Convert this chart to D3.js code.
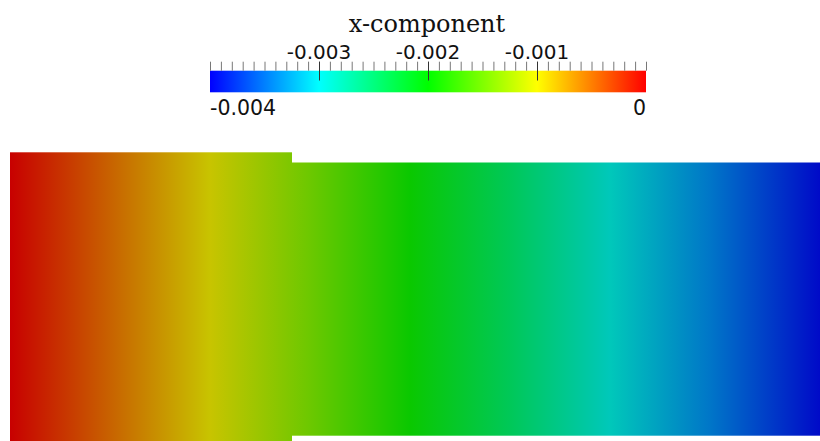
<!DOCTYPE html>
<html>
<head>
<meta charset="utf-8">
<script src="https://cdn.jsdelivr.net/npm/d3@7"></script>
<style>
  html, body { margin: 0; padding: 0; background: #fff; }
  svg { display: block; }
</style>
</head>
<body>
<svg id="chart" width="820" height="441"></svg>
<script>
  // ---- data (model units) ----
  const partStart = [0, 28.15];
  const partEnd = [28.15, 81];
  const partHalfHeight = [14.68, 13.66];

  // x-component
  const stationX = [0, 10, 20, 30, 40, 50, 60, 70, 81];
  const stationValue = [0, -0.00049, -0.00098, -0.00146, -0.00195, -0.00244, -0.00293, -0.00341, -0.00395];

  // colour map
  const mapValues = [-0.004, -0.003, -0.002, -0.001, 0];
  const mapColors = ["#0000ff", "#00ffff", "#00ff00", "#ffff00", "#ff0000"];
  const majorTicks = [-0.003, -0.002, -0.001];
  const endLabels = [-0.004, 0];
  const title = "x-component";

  const svg = d3.select("#chart");
  const defs = svg.append("defs");

  const color = d3.scaleLinear().domain(mapValues).range(mapColors).interpolate(d3.interpolateRgb);
  const shade = 0.784;
  const shaded = v => {
    const c = d3.rgb(color(v));
    return d3.rgb(c.r * shade, c.g * shade, c.b * shade).formatHex();
  };

  // ---- field ----
  const x = d3.scaleLinear().domain([0, 81]).range([10, 820]);
  const y = d3.scaleLinear().domain([-1, 1]).range([309.1, 289.1]); // 10 px per unit, centre 299.1

  const fieldGrad = defs.append("linearGradient")
    .attr("id", "fieldGrad")
    .attr("gradientUnits", "userSpaceOnUse")
    .attr("x1", x(0)).attr("x2", x(81)).attr("y1", 0).attr("y2", 0);
  stationX.forEach((sx, i) => {
    fieldGrad.append("stop")
      .attr("offset", (sx / 81))
      .attr("stop-color", shaded(stationValue[i]));
  });

  const parts = partStart.map((s, i) => ({ s, e: partEnd[i], h: partHalfHeight[i] }));
  svg.append("g").selectAll("rect")
    .data(parts)
    .join("rect")
    .attr("x", d => x(d.s))
    .attr("width", d => x(d.e) - x(d.s) + (d.s === 0 ? 0.5 : 0))
    .attr("y", d => y(d.h))
    .attr("height", d => y(-d.h) - y(d.h))
    .attr("fill", "url(#fieldGrad)");

  // ---- colour legend ----
  const lx = d3.scaleLinear().domain([-0.004, 0]).range([210, 646]);
  const barTop = 70.7, barH = 21.6;

  const barGrad = defs.append("linearGradient")
    .attr("id", "barGrad")
    .attr("gradientUnits", "userSpaceOnUse")
    .attr("x1", lx(-0.004)).attr("x2", lx(0)).attr("y1", 0).attr("y2", 0);
  mapValues.forEach((v, i) => {
    barGrad.append("stop")
      .attr("offset", (lx(v) - lx(-0.004)) / (lx(0) - lx(-0.004)))
      .attr("stop-color", mapColors[i]);
  });

  const legend = svg.append("g");
  legend.append("rect")
    .attr("x", lx(-0.004)).attr("y", barTop)
    .attr("width", lx(0) - lx(-0.004)).attr("height", barH)
    .attr("fill", "url(#barGrad)");

  // minor ticks
  const minorVals = d3.range(0, 41).map(i => -0.004 + i * 0.0001);
  const axis = d3.axisTop(lx).tickValues(minorVals).tickSize(9).tickFormat("");
  const ax = legend.append("g").attr("transform", `translate(0,${barTop})`).call(axis);
  ax.select(".domain").remove();
  ax.selectAll(".tick line").attr("stroke", "#777").attr("stroke-width", 1);

  // major ticks, reaching into the bar
  legend.append("g").selectAll("line")
    .data(majorTicks)
    .join("line")
    .attr("x1", d => Math.round(lx(d)) + 0.5).attr("x2", d => Math.round(lx(d)) + 0.5)
    .attr("y1", barTop - 9).attr("y2", 80.5)
    .attr("stroke", "#333").attr("stroke-width", 1);

  const fmt = d => d === 0 ? "0" : d3.format(".3f")(d).replace("−", "-");

  legend.append("g").selectAll("text")
    .data(majorTicks)
    .join("text")
    .attr("x", d => lx(d)).attr("y", 58.5)
    .attr("text-anchor", "middle")
    .attr("font-family", "DejaVu Sans, sans-serif")
    .attr("font-size", 20)
    .attr("fill", "#111")
    .text(fmt);

  legend.append("g").selectAll("text")
    .data(endLabels)
    .join("text")
    .attr("x", d => lx(d)).attr("y", 114.5)
    .attr("text-anchor", d => d === 0 ? "end" : "start")
    .attr("font-family", "DejaVu Sans, sans-serif")
    .attr("font-size", 20.5)
    .attr("fill", "#111")
    .text(fmt);

  svg.append("text")
    .attr("x", 427).attr("y", 31.5)
    .attr("text-anchor", "middle")
    .attr("font-family", "DejaVu Serif, serif")
    .attr("font-size", 24)
    .attr("fill", "#111")
    .text(title);
</script>
</body>
</html>
